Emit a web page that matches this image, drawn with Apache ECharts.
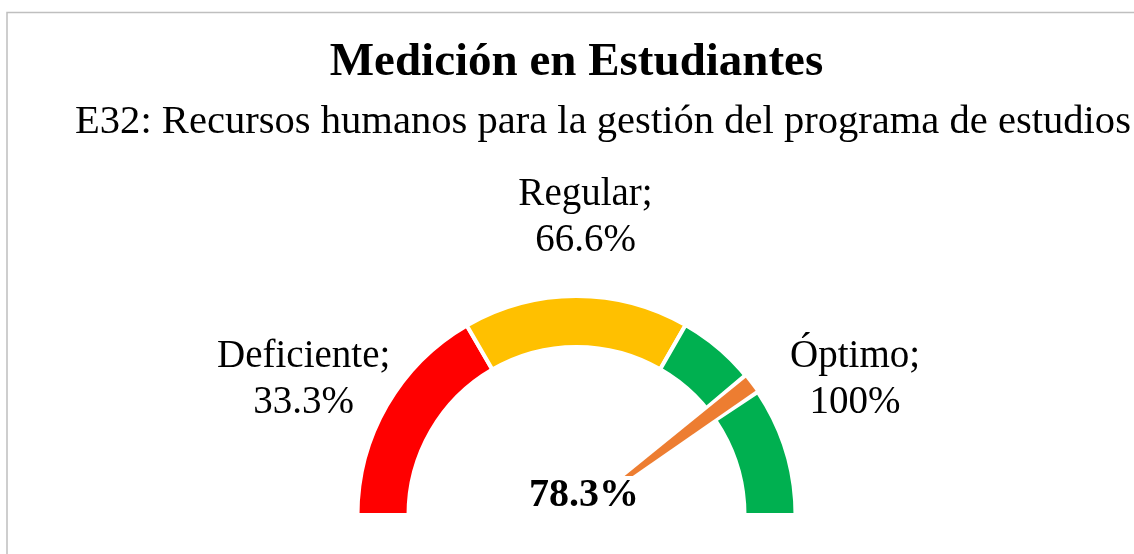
<!DOCTYPE html>
<html>
<head>
<meta charset="utf-8">
<script src="https://cdn.jsdelivr.net/npm/echarts@6/dist/echarts.min.js"></script>
<style>
html,body{margin:0;padding:0;background:#fff;}
#chart{width:1134px;height:554px;}
</style>
</head>
<body>
<div id="chart"></div>
<script>
// ---- data ----
const titleText = 'Medición en Estudiantes';
const subtitleText = 'E32: Recursos humanos para la gestión del programa de estudios';
const categories = ['Deficiente', 'Regular', 'Óptimo'];
const thresholds = [33.3, 66.6, 100];          // cumulative limits (%)
const bandColors = ['#FF0000', '#FFC000', '#00B050'];
const gaugeValue = 78.3;                        // measured value (%)
const needleWidth = 2.4;                        // needle slice width (% units)

// ---- derived ----
const segments = thresholds.map((t, i) => +(t - (i ? thresholds[i - 1] : 0)).toFixed(1));
const halfTotal = 100;
const FONT = "'Liberation Serif', 'Times New Roman', serif";
const CENTER = [576.5, 515];

const ringData = segments.map((v, i) => ({
  value: v, name: categories[i],
  itemStyle: { color: bandColors[i], borderColor: '#ffffff', borderWidth: 4 }
}));
ringData.push({ value: halfTotal, name: 'hidden', itemStyle: { color: 'transparent', borderWidth: 0 } });

const labelOffsets = [[-6, 19], [9.5, 10.5], [12, 19]];
const labelData = segments.map((v, i) => ({
  value: v, name: categories[i],
  itemStyle: { color: 'transparent' },
  label: { show: true, offset: labelOffsets[i] }
}));
labelData.push({ value: halfTotal, name: 'hidden', itemStyle: { color: 'transparent' }, label: { show: false } });

const gapPad = 0.6;
const gapData = [
  { value: gaugeValue - gapPad, itemStyle: { color: 'transparent' } },
  { value: needleWidth + 2 * gapPad, itemStyle: { color: '#ffffff' } },
  { value: 2 * halfTotal - gaugeValue - needleWidth - gapPad, itemStyle: { color: 'transparent' } }
];

const needleData = [
  { value: gaugeValue, itemStyle: { color: 'transparent' }, label: { show: false } },
  { value: needleWidth, name: 'value', itemStyle: { color: '#ED7D31' },
    label: {
      show: true, position: 'center',
      formatter: () => gaugeValue.toFixed(1) + '%',
      fontFamily: FONT, fontWeight: 'bold', fontSize: 40, color: '#000',
      lineHeight: 27, backgroundColor: '#ffffff', padding: [0, 4, 12, 4],
      offset: [7.5, -19.5]
    } },
  { value: 2 * halfTotal - gaugeValue - needleWidth, itemStyle: { color: 'transparent' }, label: { show: false } }
];

const common = {
  type: 'pie', center: CENTER, startAngle: 180, clockwise: true,
  animation: false, silent: true, avoidLabelOverlap: false,
  emphasis: { disabled: true }, labelLine: { show: false }
};

const chart = echarts.init(document.getElementById('chart'), null, { renderer: 'canvas' });
chart.setOption({
  backgroundColor: '#ffffff',
  animation: false,
  title: [
    { text: titleText, left: 571.5, top: 34.6, textAlign: 'center',
      textStyle: { fontFamily: FONT, fontWeight: 'bold', fontSize: 47, color: '#000' } },
    { text: subtitleText, left: 598, top: 97, textAlign: 'center',
      textStyle: { fontFamily: FONT, fontWeight: 'normal', fontSize: 40.6, color: '#000' } }
  ],
  graphic: [{
    type: 'rect', silent: true,
    shape: { x: 7, y: 12.5, width: 1300, height: 700 },
    style: { fill: null, stroke: '#BFBFBF', lineWidth: 1.5 }
  }],
  series: [
    Object.assign({}, common, { name: 'ring', radius: [168, 219], data: ringData, label: { show: false } }),
    Object.assign({}, common, { name: 'gap', radius: [164, 223], data: gapData, label: { show: false } }),
    Object.assign({}, common, { name: 'needle', radius: [0, 218], data: needleData }),
    Object.assign({}, common, {
      name: 'labels', radius: [0, 610], data: labelData,
      label: {
        position: 'inside', rotate: 0,
        formatter: p => p.name + ';\n' + thresholds[p.dataIndex] + '%',
        fontFamily: FONT, fontSize: 39, lineHeight: 46, color: '#000', align: 'center'
      }
    })
  ]
});
</script>
</body>
</html>
